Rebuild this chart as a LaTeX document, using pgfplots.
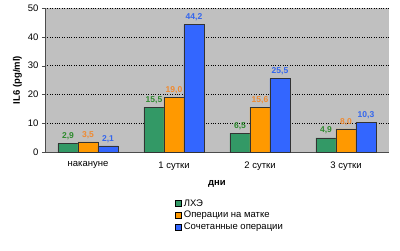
\documentclass[border=0pt]{standalone}
\usepackage{pgfplots}
\pgfplotsset{compat=1.18}
\usepackage{fontspec}
\setmainfont{Liberation Sans}
\definecolor{bggray}{HTML}{C0C0C0}
\definecolor{bgreen}{HTML}{339966}
\definecolor{borange}{HTML}{FF9900}
\definecolor{bblue}{HTML}{3366FF}
\definecolor{lgreen}{HTML}{2E8B2E}
\definecolor{lorange}{HTML}{F08A30}
\definecolor{lblue}{HTML}{3366EE}
\begin{document}
\begin{tikzpicture}[x=1pt,y=1pt]
\path[use as bounding box] (0,0) rectangle (400,250);
\begin{axis}[
  at={(45pt,98pt)}, anchor=south west,
  scale only axis, width=344pt, height=144pt,
  ybar=0pt, bar width=20pt,
  xmin=-0.5, xmax=3.5, ymin=0, ymax=50,
  xtick={0,1,2,3},
  xticklabels={накануне,1 сутки,2 сутки,3 сутки},
  major x tick style={draw=none},
  extra x ticks={-0.5,0.5,1.5,2.5,3.5},
  extra x tick labels={},
  extra x tick style={major tick length=3pt, tick style={draw=black!70, line width=0.5pt}, tick align=outside},
  ytick={0,10,20,30,40,50},
  ymajorgrids, grid style={black, dotted, line width=0.6pt},
  axis background/.style={fill=bggray},
  axis x line=bottom, axis y line=left,
  axis line style={-, black!70, line width=0.6pt},
  y tick style={black!70},
  tick align=outside, major tick length=3pt,
  xtick pos=bottom, ytick pos=left,
  tick label style={font=\fontsize{9.5}{10}\selectfont},
  xticklabel style={yshift=-3pt},
  /pgf/number format/assume math mode=true,
  xlabel={дни}, xlabel style={font=\bfseries\fontsize{9.5}{10}\selectfont, at={(axis description cs:0.5,-0.22)}, anchor=center},
  ylabel={IL6 (pg/ml)}, ylabel style={font=\bfseries\fontsize{9.5}{10}\selectfont, at={(axis description cs:-0.08,0.5)}, anchor=center},
  nodes near coords,
  nodes near coords style={font=\bfseries\fontsize{8.5}{9}\selectfont, /pgf/number format/fixed, /pgf/number format/fixed zerofill, /pgf/number format/precision=1, /pgf/number format/use comma, /pgf/number format/assume math mode=true},
  legend style={at={(axis description cs:0.37,-0.30)}, anchor=north west, draw=none, fill=none, font=\fontsize{9.5}{10}\selectfont, row sep=-0.5pt},
  legend cell align=left,
  legend image code/.code={\draw[#1, draw=black, line width=0.4pt] (0pt,-3pt) rectangle (6pt,3pt);},
]
\addplot[fill=bgreen, draw=black!80, line width=0.5pt, nodes near coords style={text=lgreen}] coordinates {(0,2.9) (1,15.5) (2,6.5) (3,4.9)};
\addplot[fill=borange, draw=black!80, line width=0.5pt, nodes near coords style={text=lorange}] coordinates {(0,3.5) (1,19.0) (2,15.6) (3,8.0)};
\addplot[fill=bblue, draw=black!80, line width=0.5pt, nodes near coords style={text=lblue}] coordinates {(0,2.1) (1,44.2) (2,25.5) (3,10.3)};
\legend{ЛХЭ,Операции на матке,Сочетанные операции}
\end{axis}
\end{tikzpicture}
\end{document}
